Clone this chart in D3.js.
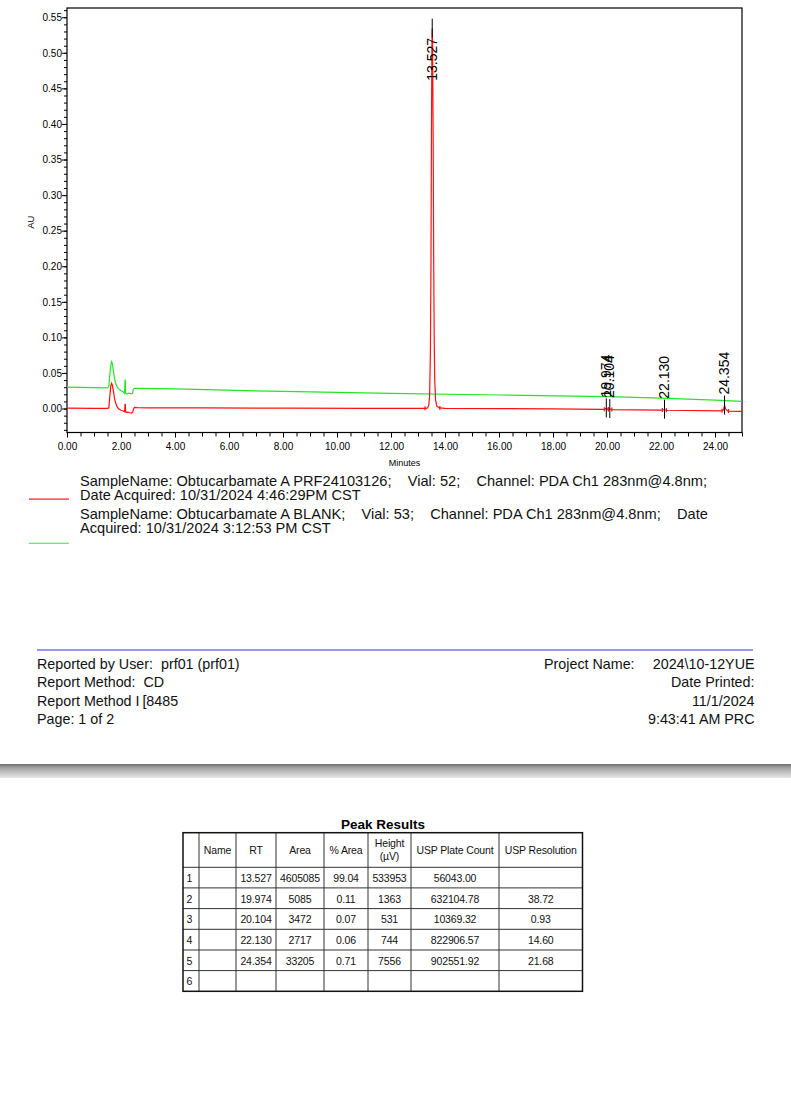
<!DOCTYPE html>
<html><head><meta charset="utf-8">
<script src="https://cdn.jsdelivr.net/npm/d3@7/dist/d3.min.js"></script>
<style>
body{margin:0;background:#fff;}
svg{display:block;font-family:"Liberation Sans",Arial,sans-serif;}
</style></head><body>
<svg id="c" width="791" height="1103"></svg>
<script>
// ---------------- DATA ----------------
// Sample trace (red) : time (min) / absorbance (AU)
const sampleTime = [0.00,1.00,1.50,1.55,1.58,1.62,1.65,1.68,1.72,1.76,1.80,1.85,1.90,1.95,2.00,2.08,2.13,2.15,2.16,2.17,2.19,2.25,2.32,2.38,2.43,2.46,2.50,2.60,3.00,5.00,8.00,11.00,13.20,13.30,13.36,13.40,13.43,13.46,13.48,13.50,13.515,13.527,13.54,13.56,13.58,13.60,13.62,13.65,13.70,13.80,14.00,16.00,18.00,19.80,19.93,19.974,20.02,20.06,20.104,20.16,22.00,22.09,22.13,22.18,24.25,24.31,24.354,24.40,24.48,25.00];
const sampleAU   = [0.0005,0.0003,0.0002,0.0010,0.0150,0.0310,0.0355,0.0330,0.0240,0.0140,0.0080,0.0030,0.0000,-0.0015,-0.0025,-0.0035,-0.0045,0.0060,0.0060,-0.0040,-0.0055,-0.0050,-0.0060,-0.0065,-0.0055,-0.0010,0.0015,0.0012,0.0010,0.0008,0.0005,0.0003,0.0002,0.0003,0.0010,0.0050,0.0180,0.0800,0.2000,0.4000,0.5100,0.5340,0.5100,0.3900,0.2200,0.1000,0.0400,0.0120,0.0030,0.0008,0.0003,0.0000,-0.0005,-0.0012,-0.0008,0.0002,-0.0008,-0.0012,-0.0007,-0.0015,-0.0023,-0.0020,-0.0016,-0.0024,-0.0034,-0.0020,0.0041,-0.0010,-0.0036,-0.0040];
// Blank trace (green)
const blankTime = [0.00,1.00,1.50,1.55,1.58,1.62,1.65,1.68,1.72,1.76,1.80,1.85,1.90,2.00,2.08,2.13,2.15,2.16,2.17,2.20,2.30,2.38,2.43,2.46,2.50,2.70,4.00,8.00,12.00,16.00,20.00,22.00,24.00,25.00];
const blankAU   = [0.0300,0.0293,0.0290,0.0310,0.0450,0.0600,0.0655,0.0630,0.0520,0.0420,0.0360,0.0310,0.0280,0.0250,0.0235,0.0215,0.0400,0.0400,0.0215,0.0205,0.0215,0.0205,0.0215,0.0270,0.0285,0.0283,0.0275,0.0240,0.0213,0.0190,0.0166,0.0145,0.0118,0.0100];

// Axis ticks
const xTickValues = [0,2,4,6,8,10,12,14,16,18,20,22,24];
const yTickValues = [0.00,0.05,0.10,0.15,0.20,0.25,0.30,0.35,0.40,0.45,0.50,0.55];

// Peak results table
const peakNum      = ["1","2","3","4","5","6"];
const peakName     = ["","","","","",""];
const peakRT       = [13.527,19.974,20.104,22.130,24.354];
const peakStart    = [13.26,19.90,20.05,22.05,24.26];
const peakEnd      = [13.81,20.05,20.18,22.20,24.50];
const peakArea     = ["4605085","5085","3472","2717","33205"];
const peakPctArea  = ["99.04","0.11","0.07","0.06","0.71"];
const peakHeight   = ["533953","1363","531","744","7556"];
const peakPlate    = ["56043.00","632104.78","10369.32","822906.57","902551.92"];
const peakRes      = ["","38.72","0.93","14.60","21.68"];
const tableHeaders = ["","Name","RT","Area","% Area","Height\n(µV)","USP Plate Count","USP Resolution"];

// Legend / report texts
const legendSample = ["SampleName: Obtucarbamate A PRF24103126;    Vial: 52;    Channel: PDA Ch1 283nm@4.8nm;",
                      "Date Acquired: 10/31/2024 4:46:29PM CST"];
const legendBlank  = ["SampleName: Obtucarbamate A BLANK;    Vial: 53;    Channel: PDA Ch1 283nm@4.8nm;    Date",
                      "Acquired: 10/31/2024 3:12:53 PM CST"];
const reportLeft   = ["Reported by User:  prf01 (prf01)","Report Method:  CD","Report Method I\u2009[8485","Page: 1 of 2"];
const reportRight  = ["Date Printed:","11/1/2024","9:43:41 AM PRC"];

// ---------------- DRAW ----------------
const svg = d3.select("#c");
const RED = "#ff1010", GREEN = "#22e622";
const m = {left:67, right:742, top:8, bottom:432.5};
const x = d3.scaleLinear().domain([0,25]).range([m.left, m.right]);
const y = d3.scaleLinear().domain([-0.0337,0.563]).range([m.bottom, m.top]);

svg.append("clipPath").attr("id","clip").append("rect")
  .attr("x",m.left).attr("y",m.top).attr("width",m.right-m.left).attr("height",m.bottom-m.top);

// axes
svg.append("g").attr("transform",`translate(0,${m.bottom})`)
  .call(d3.axisBottom(x).tickValues(xTickValues).tickSize(5).tickPadding(5).tickFormat(d3.format(".2f")));
svg.append("g").attr("transform",`translate(0,${m.bottom})`)
  .call(d3.axisBottom(x).tickValues(d3.range(0,25.01,0.5)).tickSize(4).tickFormat(""));
svg.append("g").attr("transform",`translate(${m.left},0)`)
  .call(d3.axisLeft(y).tickValues(yTickValues).tickSize(5).tickPadding(0).tickFormat(d3.format(".2f")));
svg.append("g").attr("transform",`translate(${m.left},0)`)
  .call(d3.axisLeft(y).tickValues(d3.range(-0.03,0.5601,0.01)).tickSize(3).tickFormat(""));
svg.selectAll(".domain").remove();
svg.selectAll(".tick text").attr("font-size",10).attr("fill","#000").attr("font-family","Liberation Sans, Arial");
svg.selectAll(".tick line").attr("stroke","#000");

// frame
svg.append("rect").attr("x",m.left).attr("y",m.top).attr("width",m.right-m.left).attr("height",m.bottom-m.top)
  .attr("fill","none").attr("stroke","#000").attr("stroke-width",1.2);

svg.append("text").attr("transform",`translate(34,${(m.top+m.bottom)/2+2}) rotate(-90)`)
  .attr("text-anchor","middle").attr("font-size",9.5).text("AU");
svg.append("text").attr("x",(m.left+m.right)/2).attr("y",465.5)
  .attr("text-anchor","middle").attr("font-size",9).text("Minutes");

// traces
const line = d3.line().x(d=>x(d[0])).y(d=>y(d[1]));
const blankData = d3.zip(blankTime, blankAU);
const sampleData = d3.zip(sampleTime, sampleAU);
const gTr = svg.append("g").attr("clip-path","url(#clip)");
gTr.append("path").datum(blankData).attr("d",line).attr("fill","none").attr("stroke",GREEN).attr("stroke-width",1.2);
gTr.append("path").datum(sampleData).attr("d",line).attr("fill","none").attr("stroke",RED).attr("stroke-width",1.2);

function sampleAt(t){
  const i = d3.bisectLeft(sampleTime, t);
  if (i<=0) return sampleAU[0];
  if (i>=sampleTime.length) return sampleAU[sampleAU.length-1];
  const t0=sampleTime[i-1], t1=sampleTime[i];
  if (t1===t) return sampleAU[i];
  return sampleAU[i-1] + (sampleAU[i]-sampleAU[i-1])*(t-t0)/(t1-t0);
}
// integration start/end marks
peakStart.concat(peakEnd).forEach(t=>{
  const px=x(t), py=y(sampleAt(t));
  svg.append("line").attr("x1",px).attr("x2",px).attr("y1",py-2).attr("y2",py+2).attr("stroke",RED).attr("stroke-width",1.2);
});
// peak markers and labels
peakRT.forEach(rt=>{
  const px = x(rt), py = y(sampleAt(rt));
  svg.append("line").attr("x1",px).attr("x2",px).attr("y1",py-10).attr("y2",py+9)
    .attr("stroke","#000").attr("stroke-width",1);
  const t = svg.append("text").attr("font-size",14).attr("dy","0.36em").text(rt.toFixed(3));
  const len = t.node().getComputedTextLength();
  let bottom = py - 11;
  if (bottom - len < m.top + 30) bottom = m.top + 30 + len;
  t.attr("transform",`translate(${px-0.5},${bottom}) rotate(-90)`);
});

// legend
const legFs = 14.6;
function legend(lines, y0, color, ly){
  lines.forEach((s,i)=>{
    svg.append("text").attr("x",80).attr("y",y0+i*14.5).attr("font-size",legFs)
      .style("white-space","pre").attr("fill","#111").text(s);
  });
  svg.append("rect").attr("x",29).attr("y",ly).attr("width",40).attr("height",1.2).attr("fill",color);
}
legend(legendSample, 485.5, "#ee1c1c", 498.5);
legend(legendBlank, 518.5, "#5ce65c", 542.7);

// report footer
svg.append("line").attr("x1",37).attr("x2",753).attr("y1",650).attr("y2",650).attr("stroke","#7474ee").attr("stroke-width",1.5);
const repFs = 14.3;
reportLeft.forEach((s,i)=>{
  svg.append("text").attr("x",37).attr("y",668.5+i*18.6).attr("font-size",repFs).style("white-space","pre").attr("fill","#111").text(s);
});
svg.append("text").attr("x",544).attr("y",668.5).attr("font-size",repFs).attr("fill","#111").text("Project Name:");
svg.append("text").attr("x",754.5).attr("y",668.5).attr("font-size",repFs).attr("text-anchor","end").attr("fill","#111").text("2024\\10-12YUE");
reportRight.forEach((s,i)=>{
  svg.append("text").attr("x",754.5).attr("y",687.1+i*18.6).attr("font-size",repFs).attr("text-anchor","end").attr("fill","#111").text(s);
});

// gray separator band
const grad = svg.append("defs").append("linearGradient").attr("id","band").attr("x1",0).attr("x2",0).attr("y1",0).attr("y2",1);
grad.append("stop").attr("offset","0%").attr("stop-color","#6e6e6e");
grad.append("stop").attr("offset","30%").attr("stop-color","#a6a6a6");
grad.append("stop").attr("offset","100%").attr("stop-color","#e6e6e6");
svg.append("rect").attr("x",0).attr("y",764).attr("width",791).attr("height",14).attr("fill","url(#band)");

// table
svg.append("text").attr("x",383).attr("y",829).attr("text-anchor","middle").attr("font-size",13.5)
  .attr("font-weight","bold").text("Peak Results");
const colX = [183,199,236,276,324,368,411,499,582.5];
const rowY = [832.7,867.3,887.9,908.6,929.3,950,970.6,991.3];
const gt = svg.append("g").attr("font-size",10.5).attr("letter-spacing","-0.15").attr("fill","#111");
colX.slice(1,-1).forEach(cx=>{
  gt.append("line").attr("x1",cx).attr("x2",cx).attr("y1",rowY[0]).attr("y2",rowY[rowY.length-1]).attr("stroke","#333").attr("stroke-width",1);
});
rowY.slice(1,-1).forEach(ry=>{
  gt.append("line").attr("x1",colX[0]).attr("x2",colX[colX.length-1]).attr("y1",ry).attr("y2",ry).attr("stroke","#333").attr("stroke-width",1);
});
gt.append("rect").attr("x",colX[0]).attr("y",rowY[0]).attr("width",colX[colX.length-1]-colX[0]).attr("height",rowY[rowY.length-1]-rowY[0])
  .attr("fill","none").attr("stroke","#111").attr("stroke-width",1.5);
tableHeaders.forEach((h,ci)=>{
  const cx=(colX[ci]+colX[ci+1])/2;
  const parts=h.split("\n");
  parts.forEach((p,pi)=>{
    gt.append("text").attr("x",cx).attr("text-anchor","middle")
      .attr("y", parts.length===1 ? 853.5 : 847+pi*13).text(p);
  });
});
const cols = [peakNum, peakName, peakRT.map(d=>d.toFixed(3)), peakArea, peakPctArea, peakHeight, peakPlate, peakRes];
peakNum.forEach((n,ri)=>{
  const base = rowY[ri+1]+14.7;
  cols.forEach((col,ci)=>{
    const v = col[ri]; if (v===undefined||v==="") return;
    if (ci===0) gt.append("text").attr("x",colX[0]+3.5).attr("y",base).text(v);
    else gt.append("text").attr("x",(colX[ci]+colX[ci+1])/2).attr("y",base).attr("text-anchor","middle").text(v);
  });
});
</script></body></html>
